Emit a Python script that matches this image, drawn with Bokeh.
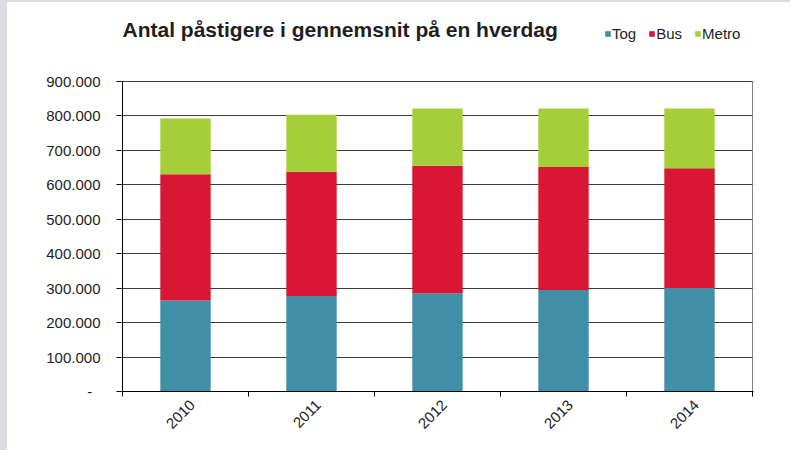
import math
from bokeh.plotting import figure
from bokeh.models import (FixedTicker, Range1d, Legend, LegendItem, Label,
                          ColumnDataSource, LinearAxis)
from bokeh.embed import file_html
from bokeh.resources import INLINE

# ---- data ----
years = ["2010", "2011", "2012", "2013", "2014"]
tog = [264000, 277000, 285000, 294000, 300000]
bus = [366000, 360000, 369000, 357000, 347000]
metro = [161000, 165000, 166000, 169000, 173000]
series = ["Tog", "Bus", "Metro"]
y_tick_values = [0, 100000, 200000, 300000, 400000, 500000, 600000, 700000, 800000, 900000]
y_tick_labels = ["-\u00a0\u00a0", "100.000", "200.000", "300.000", "400.000",
                 "500.000", "600.000", "700.000", "800.000", "900.000"]
title_text = "Antal påstigere i gennemsnit på en hverdag"

# ---- styling / layout constants ----
colors = ["#418ea7", "#d81734", "#a6ce39"]
FONT = "Liberation Sans"
TXT = "#1e1e1e"
W, H = 790, 450
LEFT, TOP, BOTTOM_PAGE, RIGHT_PAGE = 121, 5, 391, 753
PLOT_TOP_PAGE = 80.5          # page y of the top (900.000) gridline
EPS = 0.008                   # ~1px so the drawn axis line is not clipped
LABEL_SHIFT = 0.055           # ~7px shift of the year labels

n = len(years)
xpos = list(range(n))
source = ColumnDataSource(dict(x=xpos, Tog=tog, Bus=bus, Metro=metro))

frame_h = BOTTOM_PAGE - TOP
y_top = y_tick_values[-1]
y_end = y_top * frame_h / (BOTTOM_PAGE - PLOT_TOP_PAGE)

p = figure(width=W, height=H, output_backend="svg", toolbar_location=None,
           x_range=Range1d(-0.5 - EPS, n - 0.5 + EPS),
           y_range=Range1d(0, y_end),
           x_axis_location=None,
           min_border_left=LEFT, min_border_right=W - RIGHT_PAGE,
           min_border_top=TOP, min_border_bottom=H - BOTTOM_PAGE)
p.background_fill_color = "white"
p.border_fill_alpha = 0
p.outline_line_color = None
p.styles = {"background": "linear-gradient(to right, #dcdde0 7px, transparent 7px), "
                          "linear-gradient(to bottom, #dcdde0 2px, white 2px)"}

rs = p.vbar_stack(series, x="x", width=0.4, color=colors, source=source,
                  line_color=None)

# plot-area frame lines (left axis line, right border) limited to 0..900.000
p.segment(x0=[-0.5], y0=[0], x1=[-0.5], y1=[y_top], line_color="black", line_width=1)
p.segment(x0=[n - 0.5], y0=[0], x1=[n - 0.5], y1=[y_top], line_color="#7f7f7f", line_width=1)

# x axis on a slightly shifted range: year labels at centres,
# tick marks (minor ticks) at the category boundaries
p.extra_x_ranges = {"lab": Range1d(-0.5 - EPS - LABEL_SHIFT, n - 0.5 + EPS - LABEL_SHIFT)}
lab = LinearAxis(x_range_name="lab",
                 ticker=FixedTicker(ticks=xpos,
                                    minor_ticks=[i - 0.5 - LABEL_SHIFT for i in range(n + 1)]))
lab.major_label_overrides = {i: y for i, y in zip(xpos, years)}
lab.major_label_orientation = math.pi / 4
lab.axis_line_color = "black"
lab.major_tick_line_color = None
lab.major_tick_out = 0
lab.major_tick_in = 0
lab.minor_tick_line_color = "black"
lab.minor_tick_out = 5
lab.minor_tick_in = 0
lab.major_label_standoff = 6
lab.major_label_text_font = FONT
lab.major_label_text_font_size = "15px"
lab.major_label_text_color = TXT
p.add_layout(lab, "below")

# y axis
p.yaxis.ticker = FixedTicker(ticks=y_tick_values, minor_ticks=[])
p.yaxis.major_label_overrides = {v: l for v, l in zip(y_tick_values, y_tick_labels)}
p.yaxis.axis_line_color = None
p.yaxis.major_tick_line_color = "black"
p.yaxis.major_tick_out = 5
p.yaxis.major_tick_in = 0
p.yaxis.minor_tick_line_color = None
p.yaxis.major_label_standoff = 16
p.yaxis.major_label_text_font = FONT
p.yaxis.major_label_text_font_size = "15px"
p.yaxis.major_label_text_color = TXT

p.xgrid.visible = False
p.ygrid.grid_line_color = "#3c3c3c"
p.ygrid.grid_line_width = 1

# title (frame-relative screen units)
title = Label(x=1, y=BOTTOM_PAGE - 29, x_units="screen", y_units="screen",
              text=title_text, text_font=FONT, text_font_style="bold",
              text_font_size="21px", text_color=TXT,
              text_baseline="alphabetic", text_align="left")
p.add_layout(title)

# legend
legend = Legend(items=[LegendItem(label=s, renderers=[r]) for s, r in zip(series, rs)],
                location=(483, BOTTOM_PAGE - 33 - 8.5), orientation="horizontal",
                glyph_width=7, glyph_height=7, label_standoff=1, spacing=12,
                padding=0, margin=0, border_line_color=None,
                background_fill_alpha=0, label_text_font=FONT,
                label_text_font_size="15px", label_text_color=TXT,
                label_height=17)
p.add_layout(legend)

open("out.html", "w").write(file_html(p, INLINE))
